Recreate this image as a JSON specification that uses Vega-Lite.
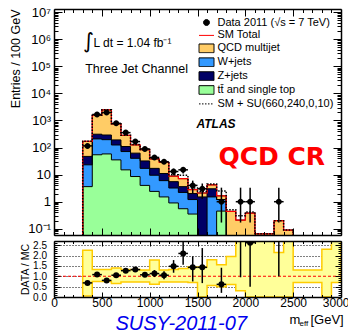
{
  "$schema": "https://vega.github.io/schema/vega-lite/v6.json",
  "background": "white",
  "padding": {"left": 9, "top": 6, "right": 0, "bottom": 0},
  "spacing": 6,
  "bounds": "flush",
  "config": {
    "view": {"stroke": null},
    "axis": {"labelColor": "black", "tickColor": "black", "domainColor": "black", "titleColor": "black", "labelFont": "Liberation Sans", "titleFont": "Liberation Sans", "titleFontWeight": "normal"},
    "legend": {"symbolSize": 144, "symbolStrokeWidth": 1, "labelFont": "Liberation Sans", "labelFontSize": 11, "labelColor": "black", "labelOffset": 4.5, "labelLimit": 200, "rowPadding": 0.9, "padding": 0}
  },
  "datasets": {
    "stack": [
      {"x": 200, "t": 0.001, "w": 0.001, "z": 0.001, "tot": 0.001, "su": 0.001},
      {"x": 300, "t": 3.6, "w": 23, "z": 47, "tot": 169, "su": 172},
      {"x": 400, "t": 54, "w": 208, "z": 310, "tot": 1540, "su": 1560},
      {"x": 500, "t": 58, "w": 195, "z": 290, "tot": 2440, "su": 2460},
      {"x": 600, "t": 35, "w": 124, "z": 191, "tot": 743, "su": 750},
      {"x": 700, "t": 15, "w": 71, "z": 109, "tot": 280, "su": 285},
      {"x": 800, "t": 8.5, "w": 40, "z": 62, "tot": 126, "su": 129},
      {"x": 900, "t": 4.0, "w": 17, "z": 32, "tot": 83, "su": 85},
      {"x": 1000, "t": 2.4, "w": 9.5, "z": 17, "tot": 38, "su": 39.5},
      {"x": 1100, "t": 1.5, "w": 6.0, "z": 11, "tot": 28.5, "su": 30},
      {"x": 1200, "t": 0.9, "w": 3.2, "z": 5.5, "tot": 8.8, "su": 9.8},
      {"x": 1300, "t": 0.55, "w": 2.2, "z": 3.6, "tot": 7.1, "su": 9.5},
      {"x": 1400, "t": 0.35, "w": 1.2, "z": 2.0, "tot": 2.8, "su": 3.2},
      {"x": 1500, "t": 0.001, "w": 0.001, "z": 1.5, "tot": 2.1, "su": 2.4},
      {"x": 1600, "t": 0.001, "w": 1.5, "z": 3.0, "tot": 4.2, "su": 4.5},
      {"x": 1700, "t": 0.45, "w": 1.2, "z": 1.2, "tot": 1.65, "su": 2.5},
      {"x": 1800, "t": 0.001, "w": 0.001, "z": 0.001, "tot": 0.44, "su": 0.5},
      {"x": 1900, "t": 0.001, "w": 0.001, "z": 0.001, "tot": 0.21, "su": 0.3},
      {"x": 2000, "t": 0.001, "w": 0.001, "z": 0.001, "tot": 0.38, "su": 0.42},
      {"x": 2100, "t": 0.001, "w": 0.001, "z": 0.001, "tot": 0.065, "su": 0.065},
      {"x": 2200, "t": 0.001, "w": 0.001, "z": 0.001, "tot": 0.065, "su": 0.065},
      {"x": 2300, "t": 0.001, "w": 0.001, "z": 0.001, "tot": 0.2, "su": 0.2},
      {"x": 2400, "t": 0.001, "w": 0.001, "z": 0.001, "tot": 0.09, "su": 0.09},
      {"x": 2500, "t": 0.001, "w": 0.001, "z": 0.001, "tot": 0.001, "su": 0.001},
      {"x": 3000, "t": 0.001, "w": 0.001, "z": 0.001, "tot": 0.001, "su": 0.001}
    ],
    "pts": [
      {"x": 350, "xlo": 300, "xhi": 400, "n": 115, "lo": 104.3, "hi": 125.7},
      {"x": 450, "xlo": 400, "xhi": 500, "n": 1660, "lo": 1619, "hi": 1701},
      {"x": 550, "xlo": 500, "xhi": 600, "n": 1950, "lo": 1906, "hi": 1994},
      {"x": 650, "xlo": 600, "xhi": 700, "n": 780, "lo": 752, "hi": 808},
      {"x": 750, "xlo": 700, "xhi": 800, "n": 355, "lo": 336, "hi": 374},
      {"x": 850, "xlo": 800, "xhi": 900, "n": 166, "lo": 153, "hi": 179},
      {"x": 950, "xlo": 900, "xhi": 1000, "n": 89, "lo": 79.6, "hi": 98.4},
      {"x": 1050, "xlo": 1000, "xhi": 1100, "n": 43, "lo": 36.4, "hi": 49.6},
      {"x": 1150, "xlo": 1100, "xhi": 1200, "n": 30, "lo": 24.5, "hi": 35.5},
      {"x": 1250, "xlo": 1200, "xhi": 1300, "n": 13, "lo": 9.4, "hi": 16.6},
      {"x": 1350, "xlo": 1300, "xhi": 1400, "n": 15, "lo": 11.1, "hi": 18.9},
      {"x": 1450, "xlo": 1400, "xhi": 1500, "n": 4, "lo": 2.0, "hi": 6.0},
      {"x": 1550, "xlo": 1500, "xhi": 1600, "n": 3, "lo": 1.27, "hi": 4.7},
      {"x": 1750, "xlo": 1700, "xhi": 1800, "n": 1, "lo": 0.17, "hi": 3.3},
      {"x": 1950, "xlo": 1900, "xhi": 2000, "n": 1, "lo": 0.17, "hi": 3.3},
      {"x": 2050, "xlo": 2000, "xhi": 2100, "n": 1, "lo": 0.17, "hi": 3.3},
      {"x": 2350, "xlo": 2300, "xhi": 2400, "n": 1, "lo": 0.17, "hi": 3.3}
    ],
    "ratio": [
      {"x": 350, "xlo": 300, "xhi": 400, "r": 0.68, "lo": 0.62, "hi": 0.74},
      {"x": 450, "xlo": 400, "xhi": 500, "r": 1.08, "lo": 1.05, "hi": 1.11},
      {"x": 550, "xlo": 500, "xhi": 600, "r": 0.80, "lo": 0.78, "hi": 0.82},
      {"x": 650, "xlo": 600, "xhi": 700, "r": 1.05, "lo": 1.01, "hi": 1.09},
      {"x": 750, "xlo": 700, "xhi": 800, "r": 1.27, "lo": 1.20, "hi": 1.34},
      {"x": 850, "xlo": 800, "xhi": 900, "r": 1.32, "lo": 1.22, "hi": 1.42},
      {"x": 950, "xlo": 900, "xhi": 1000, "r": 1.07, "lo": 0.96, "hi": 1.18},
      {"x": 1050, "xlo": 1000, "xhi": 1100, "r": 1.13, "lo": 0.96, "hi": 1.30},
      {"x": 1150, "xlo": 1100, "xhi": 1200, "r": 1.05, "lo": 0.86, "hi": 1.24},
      {"x": 1250, "xlo": 1200, "xhi": 1300, "r": 1.48, "lo": 1.17, "hi": 1.78},
      {"x": 1350, "xlo": 1300, "xhi": 1400, "r": 2.10, "lo": 1.55, "hi": 2.66},
      {"x": 1450, "xlo": 1400, "xhi": 1500, "r": 1.43, "lo": 0.75, "hi": 1.96},
      {"x": 1550, "xlo": 1500, "xhi": 1600, "r": 1.43, "lo": 0.67, "hi": 2.36},
      {"x": 1750, "xlo": 1700, "xhi": 1800, "r": 0.61, "lo": 0.20, "hi": 1.41},
      {"x": 1950, "xlo": 1900, "xhi": 2000, "r": 4.8, "lo": 0.95, "hi": 8},
      {"x": 2050, "xlo": 2000, "xhi": 2100, "r": 2.62, "lo": 0.5, "hi": 6},
      {"x": 2350, "xlo": 2300, "xhi": 2400, "r": 5, "lo": 1.0, "hi": 10}
    ],
    "band": [
      {"x": 300, "lo": 0.05, "hi": 2.25},
      {"x": 400, "lo": 0.75, "hi": 1.33},
      {"x": 500, "lo": 0.75, "hi": 1.33},
      {"x": 600, "lo": 0.65, "hi": 1.40},
      {"x": 700, "lo": 0.72, "hi": 1.33},
      {"x": 800, "lo": 0.72, "hi": 1.33},
      {"x": 900, "lo": 0.72, "hi": 1.30},
      {"x": 1000, "lo": 0.62, "hi": 1.78},
      {"x": 1100, "lo": 0.72, "hi": 1.30},
      {"x": 1200, "lo": 0.72, "hi": 1.33},
      {"x": 1300, "lo": 0.72, "hi": 1.38},
      {"x": 1400, "lo": 0.70, "hi": 1.45},
      {"x": 1500, "lo": 0.0, "hi": 1.45},
      {"x": 1600, "lo": 0.55, "hi": 1.80},
      {"x": 1700, "lo": 0.5, "hi": 1.55},
      {"x": 1800, "lo": 0.6, "hi": 1.95},
      {"x": 1900, "lo": 0.3, "hi": 2.8},
      {"x": 2000, "lo": 0.0, "hi": 2.8},
      {"x": 2100, "lo": 0.0, "hi": 2.8},
      {"x": 2200, "lo": 0.0, "hi": 2.8},
      {"x": 2300, "lo": 0.0, "hi": 2.15},
      {"x": 2400, "lo": 0.0, "hi": 2.8},
      {"x": 2500, "lo": 0.7, "hi": 1.3},
      {"x": 2600, "lo": 0.7, "hi": 1.3},
      {"x": 2700, "lo": 0.7, "hi": 1.3},
      {"x": 2800, "lo": 0.0, "hi": 2.3},
      {"x": 2900, "lo": 0.7, "hi": 2.8},
      {"x": 3000, "lo": 0.7, "hi": 2.8}
    ]
  },
  "vconcat": [
    {
      "width": 287,
      "height": 226,
      "resolve": {"axis": {"x": "independent", "y": "independent"}},
      "layer": [
        {
          "data": {"name": "stack"},
          "mark": {"type": "area", "interpolate": "step-after", "clip": true, "opacity": 1},
          "encoding": {
            "x": {"field": "x", "type": "quantitative", "scale": {"domain": [0, 3000], "nice": false, "zero": false},
              "axis": {"orient": "bottom", "values": [0,100,200,300,400,500,600,700,800,900,1000,1100,1200,1300,1400,1500,1600,1700,1800,1900,2000,2100,2200,2300,2400,2500,2600,2700,2800,2900,3000], "labels": false, "title": null, "grid": false, "domain": true, "domainWidth": 1.5, "tickWidth": 1, "tickSize": {"condition": {"test": "datum.value % 500 === 0", "value": -7}, "value": -3.5}, "zindex": 1}},
            "y": {"field": "tot", "type": "quantitative", "scale": {"type": "log", "domain": [0.059, 13000000], "nice": false},
              "axis": {"orient": "left", "values": [0.1, 1, 10, 100, 1000, 10000, 100000, 1000000, 10000000],
                "labelExpr": "round(log(datum.value)/LN10) == 0 ? '1' : round(log(datum.value)/LN10) == 1 ? '10' : round(log(datum.value)/LN10) == -1 ? '10⁻¹' : round(log(datum.value)/LN10) == 2 ? '10²' : round(log(datum.value)/LN10) == 3 ? '10³' : round(log(datum.value)/LN10) == 4 ? '10⁴' : round(log(datum.value)/LN10) == 5 ? '10⁵' : round(log(datum.value)/LN10) == 6 ? '10⁶' : '10⁷'",
                "labelFontSize": 13, "labelPadding": 3.5, "labelOverlap": false, "labelBound": false, "labelFlush": false,
                "title": "Entries / 100 GeV", "titleFontSize": 12.5, "titleAnchor": "end", "titlePadding": 5,
                "ticks": false, "grid": false, "domain": true, "domainWidth": 1.5, "zindex": 1}},
            "y2": {"datum": 0.001},
            "color": {"datum": "QCD multijet",
              "scale": {"domain": ["Data 2011 (√s = 7 TeV)", "SM Total", "QCD multijet", "W+jets", "Z+jets", "tt̄ and single top", "SM + SU(660,240,0,10)"],
                        "range": ["black", "transparent", "#FFCC66", "#3399FF", "#000066", "#99FF99", "transparent"]},
              "legend": {"title": null, "orient": "top-right", "offset": 7}
            }
          }
        },
        {
          "data": {"name": "stack"},
          "mark": {"type": "area", "interpolate": "step-after", "clip": true, "opacity": 1},
          "encoding": {
            "x": {"field": "x", "type": "quantitative", "axis": null},
            "y": {"field": "z", "type": "quantitative",
              "axis": {"orient": "left", "values": [0.06,0.07,0.08,0.09,0.1,0.2,0.3,0.4,0.5,0.6,0.7,0.8,0.9,1,2,3,4,5,6,7,8,9,10,20,30,40,50,60,70,80,90,100,200,300,400,500,600,700,800,900,1000,2000,3000,4000,5000,6000,7000,8000,9000,10000,20000,30000,40000,50000,60000,70000,80000,90000,100000,200000,300000,400000,500000,600000,700000,800000,900000,1000000,2000000,3000000,4000000,5000000,6000000,7000000,8000000,9000000,10000000],
                "labels": false, "title": null, "grid": false, "domain": false, "tickWidth": 1,
                "tickSize": {"condition": {"test": "abs(log(datum.value)/LN10 - round(log(datum.value)/LN10)) < 0.01", "value": -8}, "value": -4}, "zindex": 1}},
            "y2": {"datum": 0.001},
            "color": {"datum": "Z+jets"}
          }
        },
        {
          "data": {"name": "stack"},
          "mark": {"type": "area", "interpolate": "step-after", "clip": true, "opacity": 1},
          "encoding": {
            "x": {"field": "x", "type": "quantitative", "axis": null},
            "y": {"field": "w", "type": "quantitative", "axis": null},
            "y2": {"datum": 0.001},
            "color": {"datum": "W+jets"}
          }
        },
        {
          "data": {"name": "stack"},
          "mark": {"type": "area", "interpolate": "step-after", "clip": true, "opacity": 1},
          "encoding": {
            "x": {"field": "x", "type": "quantitative", "axis": null},
            "y": {"field": "t", "type": "quantitative", "axis": null},
            "y2": {"datum": 0.001},
            "color": {"datum": "tt̄ and single top"}
          }
        },
        {
          "data": {"name": "stack"},
          "mark": {"type": "line", "interpolate": "step-after", "clip": true, "color": "black", "strokeWidth": 1},
          "encoding": {
            "x": {"field": "x", "type": "quantitative",
              "axis": {"orient": "top", "values": [0,100,200,300,400,500,600,700,800,900,1000,1100,1200,1300,1400,1500,1600,1700,1800,1900,2000,2100,2200,2300,2400,2500,2600,2700,2800,2900,3000], "labels": false, "title": null, "grid": false, "domain": true, "domainWidth": 1.5, "tickWidth": 1, "tickSize": {"condition": {"test": "datum.value % 500 === 0", "value": -7}, "value": -3.5}, "zindex": 1}},
            "y": {"field": "tot", "type": "quantitative",
              "axis": {"orient": "right", "values": [0.06,0.07,0.08,0.09,0.1,0.2,0.3,0.4,0.5,0.6,0.7,0.8,0.9,1,2,3,4,5,6,7,8,9,10,20,30,40,50,60,70,80,90,100,200,300,400,500,600,700,800,900,1000,2000,3000,4000,5000,6000,7000,8000,9000,10000,20000,30000,40000,50000,60000,70000,80000,90000,100000,200000,300000,400000,500000,600000,700000,800000,900000,1000000,2000000,3000000,4000000,5000000,6000000,7000000,8000000,9000000,10000000],
                "labels": false, "title": null, "grid": false, "domain": true, "domainWidth": 1.5, "tickWidth": 1,
                "tickSize": {"condition": {"test": "abs(log(datum.value)/LN10 - round(log(datum.value)/LN10)) < 0.01", "value": -8}, "value": -4}, "zindex": 1}}
          }
        },
        {
          "data": {"name": "stack"},
          "mark": {"type": "line", "interpolate": "step-after", "clip": true, "color": "black", "strokeWidth": 1},
          "encoding": {"x": {"field": "x", "type": "quantitative", "axis": null}, "y": {"field": "z", "type": "quantitative", "axis": null}}
        },
        {
          "data": {"name": "stack"},
          "mark": {"type": "line", "interpolate": "step-after", "clip": true, "color": "black", "strokeWidth": 1},
          "encoding": {"x": {"field": "x", "type": "quantitative", "axis": null}, "y": {"field": "w", "type": "quantitative", "axis": null}}
        },
        {
          "data": {"name": "stack"},
          "mark": {"type": "line", "interpolate": "step-after", "clip": true, "color": "black", "strokeWidth": 1},
          "encoding": {"x": {"field": "x", "type": "quantitative", "axis": null}, "y": {"field": "t", "type": "quantitative", "axis": null}}
        },
        {
          "data": {"name": "stack"},
          "mark": {"type": "line", "interpolate": "step-after", "clip": true, "strokeWidth": 1.2},
          "encoding": {
            "x": {"field": "x", "type": "quantitative", "axis": null},
            "y": {"field": "tot", "type": "quantitative", "axis": null},
            "stroke": {"datum": "SM Total",
              "scale": {"domain": ["Data 2011 (√s = 7 TeV)", "SM Total", "QCD multijet", "W+jets", "Z+jets", "tt̄ and single top", "SM + SU(660,240,0,10)"],
                        "range": ["black", "red", "black", "black", "black", "black", "black"]},
              "legend": {"title": null, "orient": "top-right", "offset": 7}}
          }
        },
        {
          "data": {"name": "stack"},
          "mark": {"type": "line", "interpolate": "step-after", "clip": true, "color": "black", "strokeWidth": 1.5},
          "encoding": {
            "x": {"field": "x", "type": "quantitative", "axis": null},
            "y": {"field": "su", "type": "quantitative", "axis": null},
            "strokeDash": {"datum": "SM + SU(660,240,0,10)",
              "scale": {"domain": ["Data 2011 (√s = 7 TeV)", "SM Total", "QCD multijet", "W+jets", "Z+jets", "tt̄ and single top", "SM + SU(660,240,0,10)"],
                        "range": [[1, 0], [1, 0], [1, 0], [1, 0], [1, 0], [1, 0], [1.5, 1.5]]},
              "legend": {"title": null, "orient": "top-right", "offset": 7}}
          }
        },
        {
          "data": {"name": "pts"},
          "mark": {"type": "rule", "clip": true, "color": "black", "strokeWidth": 1.5},
          "encoding": {"x": {"field": "x", "type": "quantitative", "axis": null}, "y": {"field": "lo", "type": "quantitative", "axis": null}, "y2": {"field": "hi"}}
        },
        {
          "data": {"name": "pts"},
          "mark": {"type": "rule", "clip": true, "color": "black", "strokeWidth": 1.5},
          "encoding": {"x": {"field": "xlo", "type": "quantitative", "axis": null}, "x2": {"field": "xhi"}, "y": {"field": "n", "type": "quantitative", "axis": null}}
        },
        {
          "data": {"name": "pts"},
          "mark": {"type": "point", "filled": true, "opacity": 1, "color": "black", "size": 144, "clip": true},
          "encoding": {
            "x": {"field": "x", "type": "quantitative", "axis": null},
            "y": {"field": "n", "type": "quantitative", "axis": null},
            "shape": {"datum": "Data 2011 (√s = 7 TeV)",
              "scale": {"domain": ["Data 2011 (√s = 7 TeV)", "SM Total", "QCD multijet", "W+jets", "Z+jets", "tt̄ and single top", "SM + SU(660,240,0,10)"],
                        "range": ["M-0.5,0A0.5,0.5,0,1,0,0.5,0A0.5,0.5,0,1,0,-0.5,0Z", "M-1.25,0H1.25", "M-1.25,-0.72H1.25V0.72H-1.25Z", "M-1.25,-0.72H1.25V0.72H-1.25Z", "M-1.25,-0.72H1.25V0.72H-1.25Z", "M-1.25,-0.72H1.25V0.72H-1.25Z", "M-1.25,0H1.25"]},
              "legend": {"title": null, "orient": "top-right", "offset": 7}}
          }
        },
        {
          "data": {"values": [{}]},
          "mark": {"type": "text", "text": "∫", "font": "DejaVu Sans", "fontSize": 21, "align": "left", "baseline": "middle", "color": "black"},
          "encoding": {"x": {"datum": 305, "type": "quantitative", "axis": null}, "y": {"datum": 820000, "type": "quantitative", "axis": null}}
        },
        {
          "data": {"values": [{}]},
          "mark": {"type": "text", "text": "L dt = 1.04 fb⁻¹", "font": "Liberation Sans", "fontSize": 12, "align": "left", "baseline": "middle", "color": "black"},
          "encoding": {"x": {"datum": 413, "type": "quantitative", "axis": null}, "y": {"datum": 723000, "type": "quantitative", "axis": null}}
        },
        {
          "data": {"values": [{}]},
          "mark": {"type": "text", "text": "Three Jet Channel", "font": "Liberation Sans", "fontSize": 12.5, "align": "left", "baseline": "alphabetic", "color": "black"},
          "encoding": {"x": {"datum": 326, "type": "quantitative", "axis": null}, "y": {"datum": 56500, "type": "quantitative", "axis": null}}
        },
        {
          "data": {"values": [{}]},
          "mark": {"type": "text", "text": "ATLAS", "font": "Liberation Sans", "fontSize": 12, "fontWeight": "bold", "fontStyle": "italic", "align": "left", "baseline": "alphabetic", "color": "black"},
          "encoding": {"x": {"datum": 1489, "type": "quantitative", "axis": null}, "y": {"datum": 520, "type": "quantitative", "axis": null}}
        },
        {
          "data": {"values": [{}]},
          "mark": {"type": "text", "text": "QCD CR", "font": "DejaVu Sans", "fontSize": 25, "fontWeight": "bold", "align": "left", "baseline": "alphabetic", "color": "#FF0000"},
          "encoding": {"x": {"datum": 1719, "type": "quantitative", "axis": null}, "y": {"datum": 22.6, "type": "quantitative", "axis": null}}
        }
      ]
    },
    {
      "width": 287,
      "height": 56,
      "resolve": {"axis": {"x": "independent", "y": "independent"}},
      "layer": [
        {
          "data": {"name": "band"},
          "mark": {"type": "area", "interpolate": "step-after", "clip": true, "color": "#FFFF99", "opacity": 1, "stroke": "#FFCC00", "strokeWidth": 1.5},
          "encoding": {
            "x": {"field": "x", "type": "quantitative", "scale": {"domain": [0, 3000], "nice": false, "zero": false},
              "axis": {"orient": "bottom", "values": [0, 500, 1000, 1500, 2000, 2500, 3000],
                "format": "d", "labelFontSize": 12, "labelPadding": 0, "labelOverlap": false, "labelFlush": false, "labelBound": false,
                "labelAlign": {"condition": {"test": "datum.value === 3000", "value": "right"}, "value": "center"},
                "labelOffset": {"condition": {"test": "datum.value === 3000", "value": 8}, "value": 0},
                "title": null, "ticks": false, "grid": false, "domain": true, "domainWidth": 1.5, "zindex": 1}},
            "y": {"field": "lo", "type": "quantitative", "scale": {"domain": [0, 2.7], "nice": false, "zero": false},
              "axis": {"orient": "left", "values": [0.5, 1, 1.5, 2, 2.5], "grid": true, "gridColor": "black", "gridDash": [1, 2], "gridWidth": 1, "ticks": false, "labels": false, "domain": false, "title": null, "zindex": 0}},
            "y2": {"field": "hi"}
          }
        },
        {
          "data": {"values": [{}]},
          "mark": {"type": "rule", "color": "red", "strokeWidth": 1.2, "strokeDash": [3, 2]},
          "encoding": {"y": {"datum": 1, "type": "quantitative", "axis": null}}
        },
        {
          "data": {"name": "ratio"},
          "mark": {"type": "rule", "clip": true, "color": "black", "strokeWidth": 1.5},
          "encoding": {
            "x": {"field": "x", "type": "quantitative",
              "axis": {"orient": "bottom", "values": [0,100,200,300,400,500,600,700,800,900,1000,1100,1200,1300,1400,1500,1600,1700,1800,1900,2000,2100,2200,2300,2400,2500,2600,2700,2800,2900,3000], "labels": false, "title": null, "grid": false, "domain": false, "tickWidth": 1, "tickSize": {"condition": {"test": "datum.value % 500 === 0", "value": -5}, "value": -2.5}, "zindex": 1}},
            "y": {"field": "lo", "type": "quantitative",
              "axis": {"orient": "left", "values": [0, 0.5, 1, 1.5, 2, 2.5],
                "labelFontSize": 10, "labelPadding": 7.5, "labelOverlap": false, "labelFlush": false, "labelBound": false,
                "title": "DATA / MC", "titleFontSize": 10.5, "titlePadding": 2,
                "ticks": false, "grid": false, "domain": true, "domainWidth": 1.5, "zindex": 1}},
            "y2": {"field": "hi"}
          }
        },
        {
          "data": {"name": "ratio"},
          "mark": {"type": "rule", "clip": true, "color": "black", "strokeWidth": 1.5},
          "encoding": {
            "x": {"field": "xlo", "type": "quantitative",
              "axis": {"orient": "top", "values": [0,100,200,300,400,500,600,700,800,900,1000,1100,1200,1300,1400,1500,1600,1700,1800,1900,2000,2100,2200,2300,2400,2500,2600,2700,2800,2900,3000], "labels": false, "title": null, "grid": false, "domain": true, "domainWidth": 1.5, "tickWidth": 1, "tickSize": {"condition": {"test": "datum.value % 500 === 0", "value": -5}, "value": -2.5}, "zindex": 1}},
            "x2": {"field": "xhi"},
            "y": {"field": "r", "type": "quantitative",
              "axis": {"orient": "right", "values": [0,0.1,0.2,0.3,0.4,0.5,0.6,0.7,0.8,0.9,1,1.1,1.2,1.3,1.4,1.5,1.6,1.7,1.8,1.9,2,2.1,2.2,2.3,2.4,2.5,2.6,2.7], "labels": false, "title": null, "grid": false, "domain": true, "domainWidth": 1.5, "tickWidth": 1,
                "tickSize": {"condition": {"test": "abs(datum.value*2 - round(datum.value*2)) < 0.001", "value": -6}, "value": -3}, "zindex": 1}}
          }
        },
        {
          "data": {"name": "ratio"},
          "mark": {"type": "point", "shape": "circle", "filled": true, "opacity": 1, "color": "black", "size": 36, "clip": true},
          "encoding": {
            "x": {"field": "x", "type": "quantitative", "axis": null},
            "y": {"field": "r", "type": "quantitative",
              "axis": {"orient": "left", "values": [0,0.1,0.2,0.3,0.4,0.5,0.6,0.7,0.8,0.9,1,1.1,1.2,1.3,1.4,1.5,1.6,1.7,1.8,1.9,2,2.1,2.2,2.3,2.4,2.5,2.6,2.7], "labels": false, "title": null, "grid": false, "domain": false, "tickWidth": 1,
                "tickSize": {"condition": {"test": "abs(datum.value*2 - round(datum.value*2)) < 0.001", "value": -6}, "value": -3}, "zindex": 1}}
          }
        },
        {
          "data": {"values": [{}]},
          "mark": {"type": "text", "text": "m", "font": "Liberation Sans", "fontSize": 13, "align": "center", "baseline": "alphabetic", "color": "black"},
          "encoding": {"x": {"datum": 2519, "type": "quantitative", "axis": null}, "y": {"datum": -1.3, "type": "quantitative", "axis": null}}
        },
        {
          "data": {"values": [{}]},
          "mark": {"type": "text", "text": "eff", "font": "Liberation Sans", "fontSize": 8, "align": "left", "baseline": "alphabetic", "color": "black"},
          "encoding": {"x": {"datum": 2566, "type": "quantitative", "axis": null}, "y": {"datum": -1.42, "type": "quantitative", "axis": null}}
        },
        {
          "data": {"values": [{}]},
          "mark": {"type": "text", "text": "[GeV]", "font": "Liberation Sans", "fontSize": 13, "align": "left", "baseline": "alphabetic", "color": "black"},
          "encoding": {"x": {"datum": 2681, "type": "quantitative", "axis": null}, "y": {"datum": -1.3, "type": "quantitative", "axis": null}}
        },
        {
          "data": {"values": [{}]},
          "mark": {"type": "text", "text": "SUSY-2011-07", "font": "Liberation Sans", "fontSize": 20, "fontStyle": "italic", "align": "center", "baseline": "alphabetic", "color": "#0000EE"},
          "encoding": {"x": {"datum": 1330, "type": "quantitative", "axis": null}, "y": {"datum": -1.57, "type": "quantitative", "axis": null}}
        }
      ]
    }
  ]
}
